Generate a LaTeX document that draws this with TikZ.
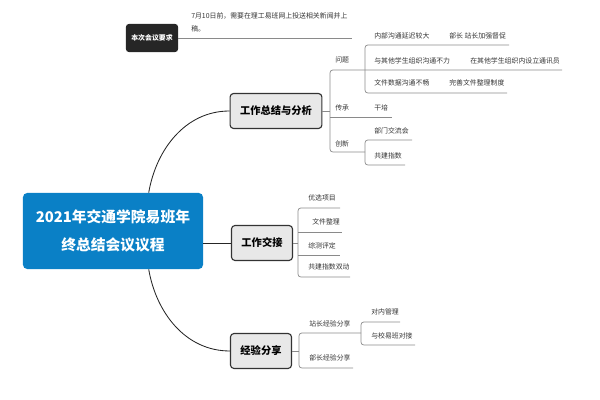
\documentclass[tikz,border=0pt]{standalone}
\usepackage{fontspec}
\setmainfont{Noto Sans CJK SC}
\usetikzlibrary{positioning}
\definecolor{rootblue}{HTML}{0A80C6}
\definecolor{twiggray}{HTML}{8A8A8A}

\begin{document}
\begin{tikzpicture}[x=0.025cm,y=-0.025cm,
    topic/.style={draw=black!80,fill=black!9,line width=0.8pt,rounded corners=2.5pt,
      font=\fontsize{7.3}{9}\selectfont\bfseries,minimum height=0.875cm,inner xsep=0.25cm},
    leaf/.style={anchor=west,inner sep=0pt,text=black!80,font=\fontsize{4.9}{6}\selectfont},
    twig/.style={draw=twiggray,line width=0.5pt,rounded corners=2pt},
    branch/.style={draw=black!85,line width=0.6pt}]
    \useasboundingbox (0,0) rectangle (600,400);
    % main topics
    \node[fill=rootblue,rounded corners=3pt,minimum width=4.5cm,minimum height=1.9cm,align=center,text=white,
      font=\fontsize{10.5}{19.5}\selectfont\bfseries] (root) at (113,231) {2021年交通学院易班年\\终总结会议议程};
    \node[topic] (sum) at (276,111) {工作总结与分析};
    \node[topic] (hand) at (262,243) {工作交接};
    \node[topic] (share) at (261,351) {经验分享};
    \draw[branch] (root.47) .. controls (156,150) and (185,111) .. (sum.west);
    \draw[branch] (root.-47) .. controls (156,312) and (185,351) .. (share.west);
    \draw[branch] (hand.west) -- (hand.west -| root.east);
    % meeting note
    \node[fill=black!85,rounded corners=2pt,minimum width=1.3cm,minimum height=0.7cm,text=white,
      font=\fontsize{4.9}{6}\selectfont\bfseries] (req) at (152,38) {本次会议要求};
    \coordinate (reqend) at (352,38);
    \draw[twig] (req.east) -- (reqend);
    \node[leaf,anchor=north west,align=left,font=\fontsize{4.9}{9.2}\selectfont] (reqtxt) at (191,12) {7月10日前，需要在理工易班网上投送相关新闻并上\\稿。};
    % branch 1
    \draw[twig] (sum.east) -- (330,111);
    \draw[twig] (562,70) -- (330,70) -- (330,152) -- (365,152);
    \draw[twig] (509,45) -- (365,45) -- (365,93) -- (507,93);
    \draw[twig] (330,117) -- (392,117);
    \draw[twig] (412,140) -- (365,140) -- (365,165) -- (405,165);
    \node[leaf] (issue) at (335,60) {问题};
    \node[leaf] (inherit) at (335,108) {传承};
    \node[leaf] (innov) at (335,144) {创新};
    \node[leaf] (i1) at (374,36) {内部沟通延迟较大};
    \node[leaf] (f1) at (449,36) {部长 站长加强督促};
    \node[leaf] (i2) at (374,61) {与其他学生组织沟通不力};
    \node[leaf] (f2) at (470,61) {在其他学生组织内设立通讯员};
    \node[leaf] (i3) at (374,83) {文件数据沟通不畅};
    \node[leaf] (f3) at (449,83) {完善文件整理制度};
    \node[leaf] (train) at (374,108) {干培};
    \node[leaf] (meet) at (374,131) {部门交流会};
    \node[leaf] (index) at (374,156) {共建指数};
    % branch 2
    \draw[twig] (hand.east) -- (298,243);
    \draw[twig] (340,208) -- (298,208) -- (298,277) -- (350,277);
    \draw[twig] (298,232) -- (342,232);
    \draw[twig] (298,255) -- (340,255);
    \node[leaf] (pick) at (308,198) {优选项目};
    \node[leaf] (file) at (312,222) {文件整理};
    \node[leaf] (eval) at (308,246) {综测评定};
    \node[leaf] (co) at (308,267) {共建指数双动};
    % branch 3
    \draw[twig] (share.east) -- (299,351);
    \draw[twig] (361,333) -- (299,333) -- (299,368) -- (353,368);
    \draw[twig] (400,322) -- (361,322) -- (361,345) -- (415,345);
    \node[leaf] (head) at (309,324) {站长经验分享};
    \node[leaf] (inner) at (371,312) {对内管理};
    \node[leaf] (link) at (371,336) {与校易班对接};
    \node[leaf] (minister) at (309,358) {部长经验分享};
\end{tikzpicture}
\end{document}
